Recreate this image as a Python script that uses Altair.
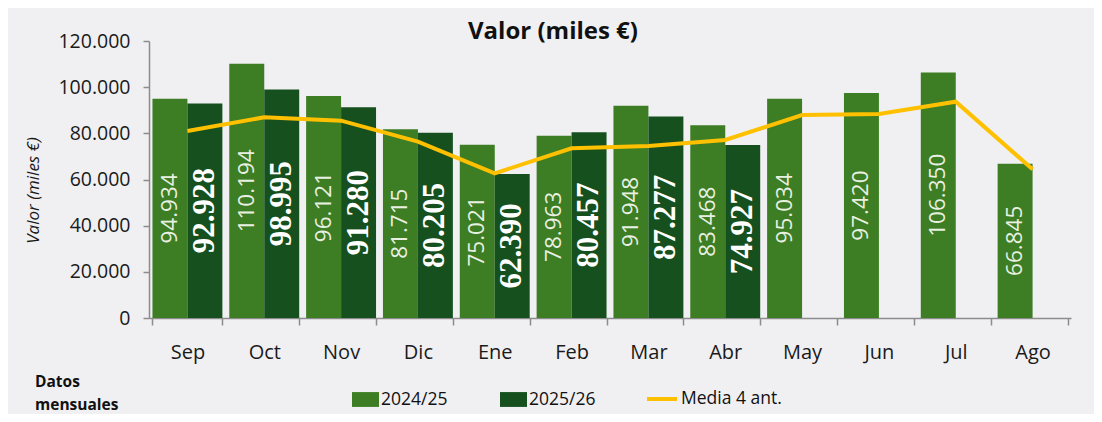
import altair as alt
import pandas as pd

months = ["Sep", "Oct", "Nov", "Dic", "Ene", "Feb", "Mar", "Abr", "May", "Jun", "Jul", "Ago"]
v2425 = [94934, 110194, 96121, 81715, 75021, 78963, 91948, 83468, 95034, 97420, 106350, 66845]
v2526 = [92928, 98995, 91280, 80205, 62390, 80457, 87277, 74927]
media4 = [81000, 86950, 85480, 76380, 62680, 73500, 74520, 77110, 87940, 88380, 93710, 64410]
series = ["2024/25", "2025/26"]
line_name = "Media 4 ant."
y_ticks = [0, 20000, 40000, 60000, 80000, 100000, 120000]


def fmt(v):
    return f"{v:,}".replace(",", ".")


rows = []
for m, v in zip(months, v2425):
    rows.append({"mes": m, "serie": series[0], "valor": v, "label": fmt(v), "half": v / 2})
for m, v in zip(months, v2526):
    rows.append({"mes": m, "serie": series[1], "valor": v, "label": fmt(v), "half": v / 2})
bars_df = pd.DataFrame(rows)
line_df = pd.DataFrame({"mes": months, "valor": media4, "serie": line_name,
                        "idx": list(range(len(months)))})

C_LIGHT = "#3d7d23"
C_DARK = "#15501e"
C_YEL = "#ffc000"
FONT = "Open Sans"

xscale = alt.Scale(domain=months, paddingInner=0.09, paddingOuter=0.045)
x_enc = alt.X("mes:N", scale=xscale, sort=months,
              axis=alt.Axis(title=None, labelAngle=0, tickBand="extent", tickSize=7,
                            labelPadding=17, labelFontSize=20, labelFont=FONT,
                            labelColor="#1a1a1a", domainColor="#8c8c8c", tickColor="#8c8c8c",
                            domainWidth=1.5, tickWidth=1.5))
y_scale = alt.Scale(domain=[0, 120000], nice=False)
xoff = alt.XOffset("serie:N", scale=alt.Scale(domain=series, paddingInner=0, paddingOuter=0))

bars = alt.Chart(bars_df).mark_bar().encode(
    x=x_enc,
    xOffset=xoff,
    y=alt.Y("valor:Q", scale=y_scale,
            axis=alt.Axis(values=y_ticks, grid=False, tickSize=6, labelPadding=13,
                          labelFontSize=19.5, labelFont=FONT, labelColor="#1a1a1a",
                          labelExpr="replace(format(datum.value, ','), ',', '.')",
                          domainColor="#8c8c8c", tickColor="#8c8c8c",
                          domainWidth=1.5, tickWidth=1.5,
                          title="Valor (miles €)", titleFont=FONT, titleFontSize=17,
                          titleFontWeight="normal", titleFontStyle="italic",
                          titleColor="#1a1a1a", titleAngle=270, titleBaseline="middle",
                          titleX=-116, titleY=149)),
    color=alt.Color("serie:N", scale=alt.Scale(domain=series, range=[C_LIGHT, C_DARK]),
                    legend=alt.Legend(title=None, orient="none", legendX=203, legendY=345,
                                      direction="horizontal",
                                      symbolType="M-1,-0.55L1,-0.55L1,0.55L-1,0.55Z",
                                      symbolSize=729, symbolStrokeWidth=0, labelOffset=2,
                                      columnPadding=52, labelFont=FONT, labelFontSize=17.5,
                                      labelColor="#111111")),
)

t1 = alt.Chart(bars_df[bars_df["serie"] == series[0]]).mark_text(
    angle=270, align="center", baseline="middle", font=FONT, fontSize=22.5,
    color="#e8f0e2"
).encode(x=x_enc, xOffset=xoff, y=alt.Y("half:Q", scale=y_scale), text="label:N")

t2 = alt.Chart(bars_df[bars_df["serie"] == series[1]]).mark_text(
    angle=270, align="center", baseline="middle", font="Liberation Serif", fontSize=31,
    fontWeight="bold", color="#ffffff"
).encode(x=x_enc, xOffset=xoff, y=alt.Y("half:Q", scale=y_scale), text="label:N")

line = alt.Chart(line_df).mark_line(strokeWidth=4).encode(
    x=x_enc,
    y=alt.Y("valor:Q", scale=y_scale),
    order="idx:Q",
    stroke=alt.Stroke("serie:N", scale=alt.Scale(domain=[line_name], range=[C_YEL]),
                      legend=alt.Legend(title=None, orient="none", legendX=496, legendY=341,
                                        symbolType="stroke", symbolSize=900,
                                        symbolStrokeWidth=4, labelOffset=2,
                                        labelFont=FONT, labelFontSize=17.5,
                                        labelColor="#111111")),
)

note = alt.Chart(pd.DataFrame({"t": ["Datos mensuales"]})).mark_text(
    align="left", baseline="top", font=FONT, fontSize=15.5, fontWeight="bold",
    color="#111111", lineHeight=23, lineBreak=" "
).encode(x=alt.value(-114), y=alt.value(334), text="t:N")

chart = alt.layer(bars, t1, t2, line, note).properties(
    width=922, height=277,
    autosize=alt.AutoSizeParams(type="none"),
    padding={"left": 141, "top": 33, "right": 23, "bottom": 96},
    background="#f0f0f3",
    title=alt.TitleParams("Valor (miles €)", font=FONT, fontSize=24, fontWeight="bold",
                          anchor="middle", dx=-57, dy=17, color="#111111"),
).resolve_scale(color="independent").configure_view(strokeWidth=0)

chart.save("out.html", embed_options={"renderer": "svg", "actions": False})
